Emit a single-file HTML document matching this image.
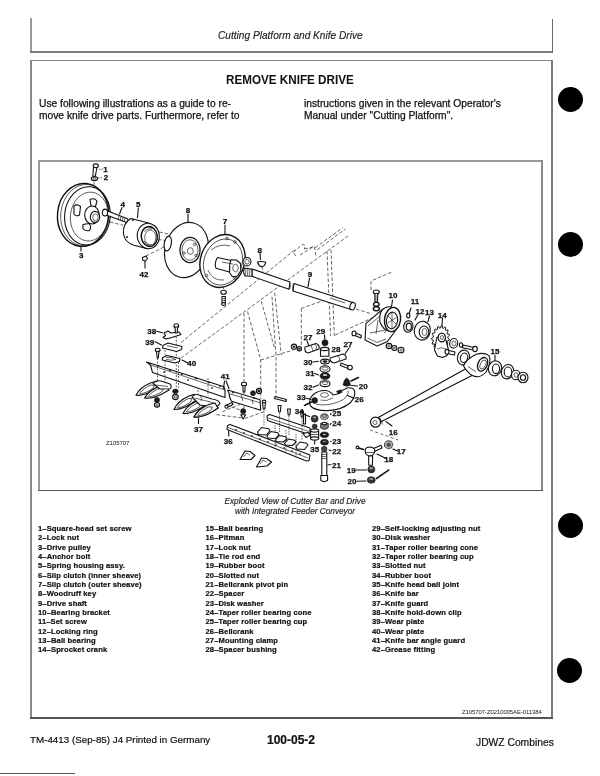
<!DOCTYPE html>
<html><head><meta charset="utf-8">
<style>
*{margin:0;padding:0;box-sizing:border-box}
html,body{width:600px;height:776px;background:#fff;overflow:hidden}
body{position:relative;filter:grayscale(1);font-family:"Liberation Sans",sans-serif;color:#111}
.a{position:absolute;white-space:nowrap}
.ln{position:absolute;background:#333}
.bul{position:absolute;width:25px;height:25px;border-radius:50%;background:#000}
.hdr{font-style:italic;font-size:10.15px;color:#222;-webkit-text-stroke:0.15px #222}
.ttl{font-weight:bold;font-size:13.4px;transform:scaleX(0.872);transform-origin:0 0;color:#111}
.p{font-size:10.25px;line-height:11.6px;color:#111;-webkit-text-stroke:0.25px #111}
.cap{font-style:italic;font-size:8.25px;color:#222;-webkit-text-stroke:0.15px #222;text-align:center;line-height:10px}
.pl{font-weight:bold;font-size:7.6px;line-height:9.36px;color:#111;letter-spacing:0.1px;-webkit-text-stroke:0.2px #111}
.ft{font-size:9.8px;color:#111;-webkit-text-stroke:0.2px #111}
</style></head><body>
<!-- top header box -->
<div class="ln" style="left:30.3px;top:17.5px;width:2px;height:35px;background:#999"></div>
<div class="ln" style="left:29.7px;top:51px;width:523.5px;height:2px;background:#7a7a7a"></div>
<div class="ln" style="left:551.5px;top:18.5px;width:1.8px;height:34px;background:#666"></div>
<div class="a hdr" style="left:218px;top:30px">Cutting Platform and Knife Drive</div>

<!-- main box -->
<div class="ln" style="left:29.7px;top:59.7px;width:523.5px;height:1.6px;background:#888"></div>
<div class="ln" style="left:29.7px;top:60px;width:2px;height:658px;background:#8a8a8a"></div>
<div class="ln" style="left:551.3px;top:60px;width:1.8px;height:658px;background:#7a7a7a"></div>
<div class="ln" style="left:29.7px;top:716.5px;width:523.5px;height:2px;background:#555"></div>

<div class="a ttl" style="left:226px;top:71.5px">REMOVE KNIFE DRIVE</div>
<div class="a p" style="left:39px;top:98px">Use following illustrations as a guide to re-<br>move knife drive parts. Furthermore, refer to</div>
<div class="a p" style="left:304px;top:98px">instructions given in the relevant Operator's<br>Manual under "Cutting Platform".</div>

<!-- diagram frame -->
<div class="ln" style="left:38.2px;top:160px;width:505px;height:1.6px;background:#999"></div>
<div class="ln" style="left:38.2px;top:160px;width:2px;height:331px;background:#999"></div>
<div class="ln" style="left:541.2px;top:160px;width:2px;height:331px;background:#8a8a8a"></div>
<div class="ln" style="left:38.2px;top:489.6px;width:505px;height:1.6px;background:#555"></div>

<svg id="dg" class="a" style="left:0;top:0" width="600" height="776" viewBox="0 0 600 776">
<defs><style>
.s{stroke:#111;stroke-width:1.1;fill:none;stroke-linejoin:round;stroke-linecap:round}
.w{stroke:#111;stroke-width:1.1;fill:#fff;stroke-linejoin:round}
.t{stroke:#222;stroke-width:0.7;fill:none}
.d{stroke:#333;stroke-width:0.75;fill:none;stroke-dasharray:3.5 2}
.k{fill:#1b1b1b;stroke:#1b1b1b;stroke-width:0.6}
.g{fill:#9a9a9a;stroke:#1b1b1b;stroke-width:0.7}
.l{font-family:"Liberation Sans",sans-serif;font-weight:bold;font-size:8px;fill:#111;text-anchor:middle;stroke:#111;stroke-width:0.25px}
.ls{stroke:#222;stroke-width:0.7;fill:none}
</style></defs>
<!-- ===== frame phantom lines ===== -->
<g class="d">
<path d="M181,342.5 L293.3,251"/>
<path d="M181,358 L348,236"/>
<path d="M315.3,247.7 L342.7,227.7 M317.3,249.7 L345.3,229"/>
<path d="M293.3,252.3 L300,246.5 Q303,243 305,245.5 L304.5,249 M300,255 L312.7,247 M296,256 Q292.5,253 295,249.5 M314.5,246.5 L316,257 M304.5,249 L314.5,246.5"/>
<path d="M244,313 L244,383"/>
<path d="M247.5,311.5 L260.7,359.5 L260.7,399"/>
<path d="M261.3,301.3 L274.7,348.7"/>
<path d="M272,296.7 L276,356.7 L276,398"/>
<path d="M274.7,292.7 L281.3,355.3"/>
<path d="M260.7,360 L293.3,350"/>
<path d="M301.3,308.4 L329.7,298.3 M301.3,308.4 L301.3,352"/>
<path d="M327,251 L330.6,336 M331,250 L334.3,336"/>
<path d="M335.2,335 L372,318"/>
<path d="M356,309 L372,314"/>
<path d="M371,290 L371,281 L392,272"/>
<path d="M223.5,280 L223.5,290"/>
<path d="M216.5,414.7 L243.5,418 M222.5,411.7 L240.5,404.2 M245,418.5 L266,411 M226,405 L243,411"/>
<path d="M94,182 L94,205"/>
<path d="M110,222 L123.3,225.3"/>
<path d="M159.3,232 L168.7,234 M158,239.3 L165,240.5"/>
<path d="M146,256 L166,246"/>
<path d="M262,266 L263,272"/>
</g>
<!-- ===== pulley 3 ===== -->
<g transform="rotate(6 84 215)">
<ellipse class="w" cx="83" cy="215" rx="25.5" ry="31.5" style="stroke-width:1.4"/>
<ellipse class="t" cx="85" cy="215" rx="24.3" ry="30.7"/>
<ellipse class="s" cx="87.5" cy="215.5" rx="22.8" ry="29.2"/>
<ellipse class="t" cx="89.5" cy="216" rx="19" ry="24.5"/>
</g>
<path class="w" d="M74,206 Q77,203.5 80.5,206.5 L79.5,215 Q76,217 74,214 Z"/>
<path class="w" d="M90,199.5 Q94,197.5 97,201 L95.5,206.5 L91,206 Z"/>
<path class="w" d="M83,224.5 L89,223.5 Q92,227 89.5,230.5 Q85,231.5 82.8,228.5 Z"/>
<ellipse class="w" cx="92" cy="215" rx="7.3" ry="9"/>
<ellipse class="w" cx="95" cy="217" rx="4.7" ry="5.6"/>
<ellipse class="t" cx="95.5" cy="217.3" rx="2.7" ry="3.4"/>
<path class="s" d="M81,246.5 L81,251"/>
<!-- bolt 1 / nut 2 -->
<path class="w" d="M93.5,167.5 L92.8,176 L95.2,176.3 L97,167.5 Z"/>
<ellipse class="w" cx="95.8" cy="165.8" rx="2.6" ry="1.9"/>
<ellipse class="w" cx="94.4" cy="178.6" rx="3.2" ry="2"/>
<ellipse class="t" cx="94.4" cy="178.4" rx="1.3" ry="0.8"/>
<path class="d" d="M99,169.3 L103,169.3 M98,178 L103,177.6" style="stroke-dasharray:1.5 1"/>
<!-- anchor bolt 4 -->
<path class="w" d="M106.5,210.5 L128,219 L127.3,222.8 L105.5,214.7 Z"/>
<ellipse class="w" cx="105" cy="212.5" rx="2.6" ry="3.4"/>
<path class="t" d="M119,215.4 L118.4,219.6 M121,216.2 L120.4,220.4 M123,217 L122.4,221.2 M125,217.8 L124.4,222"/>
<path class="s" d="M122,207.5 L119.5,214"/>
<!-- spring housing 5 -->
<path class="w" d="M131,218.5 C125.5,221 122.5,228 123.5,234 C124.5,240 128,243.5 134,245.2 L147.5,248.7 L149.5,223.3 Z"/>
<ellipse class="w" cx="148.3" cy="236" rx="11" ry="12.7" transform="rotate(-8 148.3 236)"/>
<ellipse class="s" cx="149.3" cy="236.5" rx="8" ry="9.9" transform="rotate(-8 149.3 236.5)" style="stroke-width:1.5"/>
<ellipse class="t" cx="150.3" cy="237.5" rx="5.6" ry="7.4"/>
<path class="t" d="M144.5,232 Q147,228 152,229 M144,241 Q146,245 150,245.5"/>
<path class="s" d="M138.3,208 L137.5,217.5"/>
<circle class="k" cx="133" cy="220" r="0.8"/>
<circle class="k" cx="127" cy="237" r="0.8"/>
<!-- grease fitting 42 -->
<path class="w" d="M142.5,257.5 L146,256 L147.5,258.5 L145.5,261 L142.8,260.3 Z"/>
<path class="s" d="M145,261.5 L145,268"/>
<!-- disc 8 -->
<ellipse class="w" cx="186.5" cy="250" rx="21.5" ry="28" transform="rotate(15 186.5 250)"/>
<ellipse class="w" cx="167.8" cy="243.5" rx="3.5" ry="7.5" transform="rotate(10 167.8 243.5)"/>
<ellipse class="s" cx="190" cy="250" rx="10" ry="12.6" style="stroke-dasharray:2 0.8;stroke-width:1.3"/>
<ellipse class="t" cx="190" cy="250" rx="8" ry="10.3"/>
<ellipse class="t" cx="190.3" cy="251" rx="3" ry="3.3"/>
<circle class="t" cx="184" cy="253" r="1.3"/><circle class="t" cx="194.5" cy="244.5" r="1.2"/><circle class="t" cx="196" cy="255.5" r="1.2"/>
<path class="s" d="M188,214 L188,222.3"/>
<!-- disc 7 -->
<ellipse class="w" cx="222.5" cy="261" rx="22" ry="27" transform="rotate(20 222.5 261)" style="stroke-width:1.4"/>
<ellipse class="t" cx="223" cy="262" rx="19" ry="23.5" transform="rotate(20 223 262)"/>
<path class="t" d="M211,250 Q220,243 230,246 M208,270 Q212,281 224,280"/>
<path class="w" d="M217.5,257.5 L231,260.5 L229.5,272 L216,268.3 Q214,263 217.5,257.5 Z"/>
<path class="w" d="M231,259.8 L236.5,260 L240.5,263.5 L240.8,270.5 L237.5,276 L232.5,276.7 L229.5,272.5 L229.8,264 Z"/>
<ellipse class="t" cx="235.5" cy="268" rx="2.8" ry="3.8"/>
<path class="t" d="M222,262 L233,264"/>
<circle class="t" cx="227" cy="238.5" r="1.3"/><circle class="t" cx="235" cy="242" r="1.3"/><circle class="t" cx="206.5" cy="275.5" r="1.3"/><circle class="t" cx="235" cy="278" r="1.3"/>
<path class="s" d="M225,225.5 L225,234"/>
<ellipse class="w" cx="247" cy="261.7" rx="4" ry="4.2"/>
<ellipse class="t" cx="247" cy="261.7" rx="2.2" ry="2.4"/>
<!-- bolt under disc 7 -->
<ellipse class="w" cx="223.6" cy="292.3" rx="2.8" ry="2"/>
<path class="w" d="M222,296.5 L225.3,296.5 L225.3,303 L222,303 Z"/>
<ellipse class="w" cx="223.6" cy="304" rx="2" ry="1.4"/>
<path class="t" d="M222,298.5 L225.3,298.5 M222,300.5 L225.3,300.5"/>
<!-- ===== drive shaft 9 ===== -->
<path class="w" d="M252,269 L290,282 L289,289.3 L252,276.3 Z"/>
<path class="w" d="M294,283.6 L352.5,302.6 L351,309.6 L293,291 Z"/>
<ellipse class="w" cx="352.6" cy="306.2" rx="2.6" ry="3.8" transform="rotate(17 352.6 306.2)"/>
<path class="w" d="M244.5,268 L252,269.2 L252,276.3 L245,276 Q242.5,272 244.5,268 Z"/>
<path class="t" d="M246,268 L245.5,276 M248,268.5 L247.5,276.2 M250,268.8 L249.5,276.3"/>
<path class="t" d="M289.5,282.5 Q291.5,286 289.3,289.3 M293.5,283.5 Q291.5,287.5 293.2,291"/>
<path class="t" d="M330,298 L345,303"/>
<path class="s" d="M309.5,278.3 L308,287"/>
<!-- key 8 -->
<path class="w" d="M257.5,262 Q261.5,260.8 265.8,262.3 Q264.5,266.8 261.5,266.7 Q258.5,265.8 257.5,262 Z"/>
<path class="s" d="M260,253.3 L260.5,259.5"/>
<!-- ===== bearing bracket 10 ===== -->
<path class="w" d="M383,309 L366,323.4 L365,340 L377,345.9 L387.1,341.8 L396,330 L392,310 Z"/>
<path class="t" d="M368,326 L380,316 M367.5,338 L377,342.5 L386,339 M370,333 L386,330 M378,320 L376,334 M384,333 L393,325"/>
<path class="w" d="M381.8,310.5 Q386,306 391,307 L389,331 Q383,330 380,322 Q379,315 381.8,310.5 Z"/>
<ellipse class="w" cx="392.5" cy="319.5" rx="8" ry="12.2" transform="rotate(8 392.5 319.5)" style="stroke-width:1.4"/>
<ellipse class="w" cx="392" cy="320.5" rx="5.6" ry="8.4" transform="rotate(8 392 320.5)"/>
<path class="t" d="M388,316 L396,324 M387.5,323 L396.5,317.5 M392,312.5 L392,328.5"/>
<path class="s" d="M392.5,300 L391.5,307"/>
<!-- bolt above bracket -->
<ellipse class="w" cx="376.3" cy="292" rx="3" ry="2"/>
<path class="w" d="M374.8,293.5 L377.8,293.5 L377.5,302 L375,302 Z"/>
<path class="t" d="M374.8,296 L377.7,296 M374.8,298 L377.7,298 M374.8,300 L377.6,300"/>
<ellipse class="w" cx="376.3" cy="304.3" rx="2.8" ry="1.9" style="stroke-width:1.4"/>
<ellipse class="w" cx="376.3" cy="308.8" rx="3" ry="2" style="stroke-width:1.4"/>
<!-- nuts under bracket -->
<ellipse class="w" cx="389" cy="346" rx="2.8" ry="2.6"/><circle class="t" cx="389" cy="346" r="1.1"/>
<ellipse class="w" cx="394.3" cy="348" rx="2.5" ry="2.5"/><circle class="t" cx="394.3" cy="348" r="1"/>
<ellipse class="w" cx="401" cy="350" rx="3" ry="2.8"/><circle class="t" cx="401" cy="350" r="1.2"/>
<!-- bolt left of bracket -->
<path class="w" d="M353.5,332 L361.5,335.5 L360.8,338 L353,334.8 Z"/>
<ellipse class="w" cx="354" cy="333.4" rx="2" ry="2.4"/>
<!-- locking ring 12, set screw 11 -->
<ellipse class="w" cx="408.3" cy="326.5" rx="4.6" ry="5.8" transform="rotate(10 408.3 326.5)"/>
<ellipse class="s" cx="408.8" cy="326.7" rx="2.6" ry="3.6"/>
<ellipse class="w" cx="408.3" cy="315.5" rx="1.6" ry="2.4"/>
<path class="s" d="M411,308 L409.5,312.5 M418,314.5 L415,320"/>
<!-- bearing 13 -->
<ellipse class="w" cx="422.3" cy="330.7" rx="8" ry="9.5" transform="rotate(10 422.3 330.7)"/>
<ellipse class="s" cx="424" cy="332" rx="4.8" ry="6"/>
<ellipse class="t" cx="424.5" cy="332" rx="2.5" ry="3.5"/>
<path class="s" d="M429.5,316 L428,321.5"/>
<!-- sprocket crank 14 -->
<path class="w" d="M449.2,339.2 L449.0,340.5 L447.2,341.1 L446.9,342.0 L447.8,344.1 L447.2,345.2 L445.5,344.7 L444.9,345.4 L445.1,347.9 L444.2,348.6 L442.9,347.2 L442.1,347.5 L441.6,350.0 L440.6,350.2 L439.9,348.0 L439.1,348.0 L437.9,350.0 L437.0,349.7 L437.0,347.2 L436.3,346.7 L434.7,347.9 L434.0,347.1 L434.7,344.8 L434.3,343.9 L432.4,344.2 L432.1,343.0 L433.4,341.1 L433.3,340.1 L431.6,339.3 L431.7,338.1 L433.4,337.0 L433.5,336.0 L432.3,334.3 L432.7,333.1 L434.5,333.0 L435.0,332.1 L434.5,329.8 L435.2,328.9 L436.8,329.9 L437.4,329.3 L437.6,326.8 L438.5,326.4 L439.6,328.2 L440.4,328.0 L441.3,325.8 L442.2,325.8 L442.6,328.2 L443.4,328.4 L444.8,326.8 L445.6,327.4 L445.3,329.9 L445.8,330.5 L447.6,329.8 L448.1,330.8 L447.1,332.9 L447.4,333.9 L449.2,334.2 L449.3,335.4 L447.8,336.9 L447.8,338.0 Z" style="stroke-width:1"/>
<path class="w" d="M437,337 L446,340 L448.5,350 L447,355.5 L442.5,357.5 L437.5,356 L434.5,350 Z"/>
<ellipse class="w" cx="441.8" cy="337.5" rx="3.6" ry="4.4" style="stroke-width:1.2"/>
<ellipse class="t" cx="442" cy="337.5" rx="1.6" ry="2"/>
<path class="t" d="M437,349 Q441,346.5 446,349"/>
<path class="s" d="M442.5,318 L442,325.5"/>
<!-- crank pin bolt -->
<path class="w" d="M447,350 L455,352 L454.5,355 L446.5,353.5 Z"/>
<ellipse class="w" cx="447" cy="351.8" rx="2" ry="2.4"/>
<!-- washer, bolt -->
<ellipse class="w" cx="453.7" cy="343.3" rx="4" ry="4.8" transform="rotate(10 453.7 343.3)"/>
<ellipse class="t" cx="454" cy="343.5" rx="2" ry="2.6"/>
<ellipse class="w" cx="461" cy="345" rx="1.6" ry="2.2"/>
<path class="w" d="M463,345 L474,347.5 L473.5,350 L462.5,347.8 Z"/>
<ellipse class="w" cx="475" cy="349" rx="2.3" ry="2.6"/>
<!-- washer near pitman -->
<ellipse class="w" cx="463.5" cy="357.5" rx="6" ry="7.5" transform="rotate(15 463.5 357.5)"/>
<ellipse class="s" cx="464" cy="357.8" rx="3.6" ry="4.8" transform="rotate(15 464 357.8)"/>
<!-- ===== pitman 16 ===== -->
<path class="w" d="M468,367.6 L378.3,417.6 L381.5,421.6 L474,374.5 Z"/>
<path class="w" d="M463.5,366 Q466,359 476.3,354.2 Q484,352 489,355.6 Q492,362 486,372 Q482,376.5 477.6,376.8 Q470,377 463.5,366 Z"/>
<ellipse class="w" cx="482.6" cy="364.3" rx="4.6" ry="7.2" transform="rotate(25 482.6 364.3)" style="stroke-width:1.3"/>
<ellipse class="t" cx="483" cy="364.5" rx="2.6" ry="4.8" transform="rotate(25 483 364.5)"/>
<path class="t" d="M468,366.5 Q472,369 476,372"/>
<ellipse class="w" cx="375.5" cy="422.2" rx="5" ry="5" style="stroke-width:1.2"/>
<ellipse class="t" cx="375" cy="422.5" rx="2" ry="2"/>
<path class="t" d="M380,417.8 L382.5,424.5"/>
<path class="s" d="M386,421.5 L392,426"/>
<path class="d" d="M370,430 L398,440" style="stroke-dasharray:3 2.5"/>
<!-- bearing 15 + rings -->
<ellipse class="w" cx="495" cy="368.3" rx="6.5" ry="7.6" transform="rotate(20 495 368.3)"/>
<ellipse class="s" cx="496" cy="368.8" rx="3.6" ry="4.8"/>
<path class="s" d="M495,355 L495,360.5"/>
<ellipse class="w" cx="507.5" cy="371.7" rx="6" ry="7.3" transform="rotate(20 507.5 371.7)"/>
<ellipse class="s" cx="508" cy="372" rx="3.8" ry="5"/>
<ellipse class="w" cx="515.8" cy="375" rx="4.3" ry="4.8"/>
<ellipse class="t" cx="516" cy="375" rx="2" ry="2.3"/>
<ellipse class="w" cx="523" cy="377.5" rx="5" ry="5.3"/>
<ellipse class="s" cx="523" cy="377.5" rx="2.6" ry="2.8"/>
<!-- ===== clamps 27, stack 28-32 ===== -->
<ellipse class="w" cx="294" cy="346.7" rx="2.6" ry="2.6"/><circle class="k" cx="294" cy="346.7" r="1"/>
<ellipse class="w" cx="299.3" cy="348.7" rx="2.2" ry="2.2"/><circle class="k" cx="299.3" cy="348.7" r="0.9"/>
<path class="w" d="M305,347 L316,343.5 Q320,345 319,349 L308,353 Q304,352 305,347 Z"/>
<path class="t" d="M311,345 L313,351 M314.5,344 Q318,346 316,350"/>
<path class="w" d="M330,358 L343,354 Q347,355.5 346,359 L334,363 Q329.5,362 330,358 Z"/>
<path class="t" d="M337,356 Q341,357 339,361"/>
<path class="w" d="M341,363 L348.5,366 L348,368.5 L340.5,365.5 Z"/>
<ellipse class="w" cx="350" cy="367.5" rx="2.3" ry="2.3"/>
<path class="s" d="M307,341 L309,346 M349,348 L345,354"/>
<circle class="k" cx="325" cy="342.8" r="3.1"/>
<path class="w" d="M320.5,349 L328.9,349 L328.9,356.3 L320.5,356.3 Z"/>
<ellipse class="w" cx="324.7" cy="349" rx="4.2" ry="1.6"/>
<path class="s" d="M324.5,334.8 L324.8,339.2"/>
<ellipse class="w" cx="325" cy="361.5" rx="4.4" ry="2.4"/><ellipse class="k" cx="325" cy="361.5" rx="2" ry="1.1"/>
<ellipse class="w" cx="325" cy="369" rx="5" ry="3.2"/><ellipse class="t" cx="325" cy="368.6" rx="3" ry="1.6"/>
<ellipse class="k" cx="325" cy="376" rx="5" ry="3.5"/><ellipse class="w" cx="325" cy="375" rx="3" ry="1.4"/>
<ellipse class="w" cx="325" cy="383.7" rx="5" ry="2.9"/><ellipse class="t" cx="325" cy="383.2" rx="3" ry="1.4"/>
<path class="s" d="M313,362 L318.5,361.3 M314,373.3 L318.5,375 M313,387.3 L318.5,385"/>
<!-- nut 20 upper + cotter -->
<path class="k" d="M343,385 Q344,379 346.7,378 Q349.5,379 350.5,385 Q346.7,387.5 343,385 Z"/>
<path class="s" d="M351,381 L358.5,377.5" style="stroke-width:1.6"/>
<path class="s" d="M351,385.5 L357.5,386"/>
<!-- ===== bellcrank 26 ===== -->
<path class="w" d="M310.5,406 Q307.5,399 314,394 Q319,390 326,390.5 Q331,391.5 333,395 L339.5,393.5 Q342.5,389.5 347,388 Q352.5,387 354.5,390.5 Q356,397 350,403 Q342,409.8 328,410.6 Q315.5,411 310.5,406 Z"/>
<path class="t" d="M316,404.5 Q331,406.5 343.5,399.5 Q349,394.5 348,390.5 M320.5,400 Q326,402 333,398"/>
<ellipse class="t" cx="324.5" cy="395" rx="4" ry="2.3"/>
<path class="k" d="M336.5,391.2 L341,389.8 L342.3,392.2 L337.8,393.6 Z"/>
<path class="s" d="M347.5,395.5 L354,398.2"/>
<!-- nut 33 -->
<circle class="k" cx="314.7" cy="400.5" r="2.9"/>
<path class="s" d="M304.5,405.5 L311.5,402" style="stroke-width:1.6"/>
<path class="s" d="M306,398 L311,399.5"/>
<!-- stack 22-25 under bellcrank -->
<ellipse class="g" cx="324.4" cy="416.6" rx="4" ry="2.9" style="fill:#bbb"/><ellipse class="t" cx="324.4" cy="416" rx="2.4" ry="1.3"/>
<path class="g" d="M320.4,423.5 Q324.4,420.5 328.4,423.5 L328.2,428 Q324.4,431 320.6,428 Z" style="fill:#777"/><ellipse class="w" cx="324.4" cy="423.6" rx="2.4" ry="1.1"/>
<ellipse class="k" cx="324.4" cy="434.8" rx="4.3" ry="2.8"/><ellipse class="w" cx="324.4" cy="434.3" rx="2.3" ry="1.1"/>
<ellipse class="k" cx="324.5" cy="442.2" rx="4" ry="2.9"/><ellipse class="g" cx="324.5" cy="441.6" rx="2.3" ry="1.1" style="fill:#888"/>
<ellipse class="k" cx="324.2" cy="449" rx="2.8" ry="2.7" style="fill:#444"/>
<path class="w" d="M321.8,452 L326.8,452 L326.8,476 L321.8,476 Z"/>
<path class="w" d="M320.8,475.5 L327.6,475.5 L327.6,480.5 L324.2,481.8 L320.8,480.5 Z"/>
<path class="t" d="M321.8,454.5 L326.8,454.5 M321.8,456.5 L326.8,456.5 M321.8,458.5 L326.8,458.5"/>
<path class="s" d="M331,413.3 L330.5,414.5 M331,423.3 L330.5,424.5 M331,441.3 L330.5,441.5 M331,450.7 L329,450 M331,464.7 L328,464.7"/>
<!-- ball joint 35, boot 34 -->
<path class="w" d="M303.5,414 L305.5,414 L305.5,424 L303.5,424 Z"/>
<circle class="k" cx="314.6" cy="418.7" r="3.5" style="fill:#333"/><ellipse cx="314.6" cy="417.6" rx="1.6" ry="1" fill="#999"/>
<ellipse class="k" cx="314.7" cy="426.3" rx="2.5" ry="2.2" style="fill:#333"/>
<path class="w" d="M310.6,430.5 L318.6,430.5 L318.6,438.5 L310.6,438.5 Z"/>
<ellipse class="w" cx="314.6" cy="430.5" rx="4" ry="1.6"/>
<ellipse class="w" cx="314.6" cy="438.5" rx="4" ry="1.6"/>
<path class="t" d="M310.6,434.5 L318.6,434.5"/>
<path class="s" d="M303,414 L309.5,416.5 M314.7,441 L314.7,444"/>
<path class="s" d="M306,435.5 L309,434.5" style="stroke-width:1.5"/>
<!-- ===== tie rod end 18 etc ===== -->
<path class="g" d="M384.5,443 L387,440.8 L391,441 L393,444 L391.5,448 L387.5,448.8 L384.5,446.5 Z" style="fill:#aaa"/><ellipse class="k" cx="388.7" cy="444.8" rx="1.6" ry="1.5" style="fill:#555"/>
<path class="s" d="M393,449 L398,451.3"/>
<path class="w" d="M373.5,448.5 L381,445.3 L382,448 L374.5,451.5 Z"/>
<path class="w" d="M365.3,449 Q366.5,447 370,447 Q374.5,447.3 374.8,450.5 Q374.5,455.5 370,456 Q365.8,455.5 365.3,452 Z"/>
<path class="t" d="M366,452.5 L374.5,452.5"/>
<path class="w" d="M368.6,456 L372.6,456 L372.4,465.3 L368.8,465.3 Z"/>
<path class="s" d="M357,447.5 L363.5,449.5" style="stroke-width:1.5"/>
<circle class="w" cx="357.5" cy="447.5" r="1.4"/>
<path class="s" d="M377,454 L386,458.5"/>
<ellipse class="k" cx="371.3" cy="469.5" rx="3.5" ry="3.4" style="fill:#333"/><ellipse cx="371.3" cy="468.3" rx="1.8" ry="1.1" fill="#aaa"/>
<ellipse class="k" cx="371.3" cy="480" rx="4" ry="3.3" style="fill:#333"/><ellipse cx="371.3" cy="479" rx="2.2" ry="1.1" fill="#999"/>
<path class="s" d="M376.5,478.5 L388.7,470" style="stroke-width:1.6;stroke-dasharray:1.2 0.6"/>
<path class="s" d="M356,470 L366.5,470 M357,481.3 L366,481"/>
<!-- ===== cutter bar (angle) ===== -->
<path class="w" d="M146.5,362 L224,386.8 L225,390 L225,397.5 L152.5,372.5 L150.5,365 Z"/>
<path class="t" d="M150.5,365 L225,390"/>
<g class="k"><circle cx="158" cy="366" r="0.7"/><circle cx="170" cy="370.5" r="0.7"/><circle cx="182" cy="374" r="0.7"/><circle cx="196" cy="378.5" r="0.7"/><circle cx="209" cy="382.5" r="0.7"/><circle cx="220" cy="386" r="0.7"/>
<circle cx="164" cy="372" r="0.6"/><circle cx="188" cy="380" r="0.6"/><circle cx="212" cy="388" r="0.6"/></g>
<!-- phantom bolt lines -->
<g class="d" style="stroke-dasharray:2 1.5">
<path d="M157.5,358 L157.5,382 M176.3,333 L176.3,390 M165,350 L165,383 M178.5,362 L178.5,388 M208,378 L208,396 M198,390 L198,395 M244,392 L244,408"/>
</g>
<!-- guards 37 -->
<defs>
<g id="gd">
<path class="w" d="M0,0 C4,-3 11,-5 19,-4.3 L25,-3 L25.5,3 L18,3.6 C10,4 4,2.6 0,0 Z" style="stroke-width:1.2"/>
<path class="t" d="M3.5,0.2 C8,-2.2 13,-2.8 18,-2.3 M4,0.8 C9,2.2 14,2.3 18,1.8 M18,-2.3 L21,-0.3 L18,1.8"/>
</g>
</defs>
<use href="#gd" transform="translate(136,395.2) rotate(-27)"/>
<use href="#gd" transform="translate(144.6,398) rotate(-25)"/>
<path class="w" d="M153,383.5 Q156,380 161,381 L170,384 Q172.5,386.5 170,388.8 L160,389 Z"/>
<path class="t" d="M155,385 L168,386.5"/>
<use href="#gd" transform="translate(174,409.5) rotate(-30)"/>
<use href="#gd" transform="translate(183,413.5) rotate(-28)"/>
<use href="#gd" transform="translate(194,417) rotate(-27)"/>
<path class="w" d="M192,397 Q195,393.5 199,395 L212,399 Q219,400 220,403.5 Q217,408 212,407 L200,405 Z"/>
<path class="t" d="M195,398 L214,403 M200,396 Q203,398 201,401"/>
<use href="#gd" transform="translate(194,417) rotate(-27)"/>
<!-- nuts under guards -->
<circle class="k" cx="157" cy="400" r="2.6"/><ellipse class="w" cx="157" cy="404.8" rx="2.6" ry="2.3"/><circle class="t" cx="157" cy="404.8" r="1"/>
<ellipse class="k" cx="175.4" cy="391.3" rx="2.8" ry="2.3"/><ellipse class="w" cx="175.4" cy="397" rx="2.8" ry="2.6"/><circle class="t" cx="175.4" cy="397" r="1.1"/>
<path class="s" d="M198.5,418.5 L198.5,423.5"/>
<!-- plates 38-40 -->
<path class="w" d="M164,333 L168,331 L171,333 L179,332 L181,334.5 L172,337.5 L166,339 L163,337.5 L165.5,335.5 Z"/>
<ellipse class="w" cx="176.3" cy="325.7" rx="2.4" ry="2"/>
<path class="w" d="M175,327 L177.6,327 L177.2,333 L175.4,333 Z"/>
<path class="w" d="M163,345.5 L168,343 L182,346.5 L181.5,349.5 L176.5,351.5 L162.5,348 Z"/>
<path class="t" d="M167,345.7 L178,348"/>
<path class="w" d="M162.5,357.8 L167,355.5 L180,358.5 L179.5,361.5 L175,363 L162.3,360 Z"/>
<path class="t" d="M166,357.6 Q171,356.5 176,359.5 Q171,361 166,359.3"/>
<ellipse class="w" cx="157.7" cy="350" rx="2.4" ry="1.8"/>
<path class="w" d="M156.5,351.3 L159,351.3 L158.3,358 L157.2,358 Z"/>
<path class="s" d="M156.5,331.2 L162.5,332.8 M155,341.8 L161.5,345 M188,363 L182,360"/>
<!-- angle guard 41 -->
<path class="w" d="M227.7,390 L260,399.7 L260.7,410.2 L231.5,401.2 Q229,397 229.2,393.7 Z"/>
<path class="t" d="M229.2,393.7 L260,402.7 M241,395 L243,401 M252,399.5 L253,404"/>
<circle class="k" cx="233" cy="392.5" r="0.7"/><circle class="k" cx="254" cy="398" r="0.7"/>
<path class="s" d="M224.5,381 L223.5,388.5 M226,381 L229,388.5"/>
<ellipse class="w" cx="244" cy="384.2" rx="2.6" ry="1.9"/>
<path class="w" d="M242.8,385.5 L245.2,385.5 L244.8,392 L243.2,392 Z"/>
<circle class="k" cx="253" cy="393.2" r="2.5"/><circle class="w" cx="253" cy="393.2" r="1"/>
<circle class="w" cx="259" cy="391" r="2.6"/><circle class="k" cx="259" cy="391" r="1.3"/>
<circle class="k" cx="243.2" cy="411.2" r="2.6"/><path class="w" d="M240.8,414.8 L245.6,414.8 L243.2,419 Z"/>
<path class="w" d="M226,405.5 L232,402.5 L233,404.5 L227,407.5 Z"/>
<circle class="w" cx="226.5" cy="406.7" r="1.6"/>
<!-- knife bar 36 -->
<path class="w" d="M227.5,425.5 L230,424.5 L310,455 L309,460.6 L306.5,461 L227,429.5 Z"/>
<path class="t" d="M228,427.5 L308,458"/>
<g class="k"><circle cx="236" cy="430" r="0.6"/><circle cx="244" cy="433" r="0.6"/><circle cx="252" cy="436" r="0.6"/><circle cx="260" cy="439" r="0.6"/><circle cx="268" cy="442" r="0.6"/><circle cx="276" cy="445" r="0.6"/><circle cx="284" cy="448" r="0.6"/><circle cx="292" cy="451" r="0.6"/><circle cx="300" cy="454" r="0.6"/></g>
<path class="s" d="M228.5,431 L228.8,436"/>
<!-- knife head bar (upper) -->
<path class="w" d="M267,416 L269.5,414.5 L310,428 L310,433 L307.5,434 L267.5,420.5 Z"/>
<path class="t" d="M268,418 L309,431.5"/>
<g class="d" style="stroke-dasharray:1.5 1"><path d="M264,404 L264,425 M279.5,408 L279.5,432 M289,411 L289,436 M302,413 L302,440 M275,425 L275,447 M286,430 L286,452 M296,434 L296,456"/></g>
<path class="w" d="M262.5,402 L265.5,402 L264.8,409 L263.2,409 Z"/>
<path class="w" d="M278,405.5 L281,405.5 L280.3,412 L278.7,412 Z"/>
<path class="w" d="M287.5,409 L290.5,409 L289.8,415 L288.2,415 Z"/>
<path class="w" d="M300.5,411 L303.5,411 L302.8,417 L301.2,417 Z"/>
<!-- knife sections on bar -->
<path class="w" d="M257.5,432.0 L261.5,427.5 L268.5,428.7 L270,430.5 L266.5,435 L258.5,434.5 Z"/>
<path class="w" d="M267,436.0 L271,431.5 L277.5,432.7 L279,434.5 L275.5,438.5 L268,438.0 Z"/>
<path class="w" d="M275.5,440.0 L279.5,435.5 L285.5,436.7 L287,438.5 L283.5,442 L276.5,441.5 Z"/>
<path class="w" d="M284.5,443.5 L288.5,439 L294.5,440.2 L296,442 L292.5,445.5 L285.5,445.0 Z"/>
<path class="w" d="M296,446.5 L300,442 L306.5,443.2 L308,445 L304.5,449.5 L297,449.0 Z"/>
<path class="w" d="M303,433.5 L308,432.5 L310.5,435 L306,437.5 Z"/>
<!-- loose sections -->
<path class="w" d="M240,459.5 L245,451 L250,451.5 L255,455.5 L251,459.5 Z" style="stroke-width:1.1"/>
<path class="t" d="M243.5,457 L246.5,453 L250,455"/>
<path class="w" d="M256.5,467 L261.5,458 L266.5,458.5 L271.5,462 L267,466 Z" style="stroke-width:1.1"/>
<path class="t" d="M260,464 L263,460 L266.5,462"/>
<!-- small parts near pillar -->
<path class="w" d="M275,396.5 L286.5,399.5 L286,401.5 L274.5,398.5 Z"/>
<ellipse class="w" cx="264" cy="401.5" rx="1.8" ry="1.4"/>
<!-- labels -->
<g class="l">
<text x="105.6" y="172.1">1</text>
<text x="106" y="180.4">2</text>
<text x="81.3" y="258.2">3</text>
<text x="122.7" y="206.9">4</text>
<text x="138.3" y="206.9">5</text>
<text x="188" y="212.9">8</text>
<text x="225" y="224.2">7</text>
<text x="144" y="276.9">42</text>
<text x="259.7" y="252.6">8</text>
<text x="310" y="276.9">9</text>
<text x="393" y="298.2">10</text>
<text x="415" y="304.2">11</text>
<text x="420" y="314.2">12</text>
<text x="429.5" y="314.8">13</text>
<text x="442.3" y="317.6">14</text>
<text x="495" y="354.2">15</text>
<text x="393.3" y="434.6">16</text>
<text x="401.3" y="454.2">17</text>
<text x="388.7" y="462.2">18</text>
<text x="351.3" y="472.9">19</text>
<text x="352" y="484.2">20</text>
<text x="336.5" y="467.6">21</text>
<text x="336.7" y="453.6">22</text>
<text x="336.7" y="444.2">23</text>
<text x="336.7" y="426.2">24</text>
<text x="336.7" y="416.2">25</text>
<text x="359.3" y="402.2">26</text>
<text x="363.3" y="388.9">20</text>
<text x="308" y="340.2">27</text>
<text x="348" y="346.9">27</text>
<text x="336" y="351.6">28</text>
<text x="320.7" y="333.6">29</text>
<text x="308" y="364.9">30</text>
<text x="310" y="376.2">31</text>
<text x="308" y="390.2">32</text>
<text x="301.3" y="399.6">33</text>
<text x="299.3" y="414.2">34</text>
<text x="314.7" y="451.6">35</text>
<text x="228.3" y="444.2">36</text>
<text x="198.5" y="431.9">37</text>
<text x="151.7" y="333.9">38</text>
<text x="149.7" y="344.6">39</text>
<text x="191.7" y="365.9">40</text>
<text x="225.2" y="378.9">41</text>
</g>
<text x="106" y="445.2" style="font-family:'Liberation Sans',sans-serif;font-size:6px;fill:#111;letter-spacing:-0.05px">Z105707</text>
</svg>

<div class="a cap" style="left:195px;top:496.5px;width:200px">Exploded View of Cutter Bar and Drive<br>with Integrated Feeder Conveyor</div>

<div class="a pl" style="left:38px;top:523.8px">1–Square-head set screw<br>2–Lock nut<br>3–Drive pulley<br>4–Anchor bolt<br>5–Spring housing assy.<br>6–Slip clutch (inner sheave)<br>7–Slip clutch (outer sheave)<br>8–Woodruff key<br>9–Drive shaft<br>10–Bearing bracket<br>11–Set screw<br>12–Locking ring<br>13–Ball bearing<br>14–Sprocket crank</div>
<div class="a pl" style="left:205.5px;top:523.8px">15–Ball bearing<br>16–Pitman<br>17–Lock nut<br>18–Tie rod end<br>19–Rubber boot<br>20–Slotted nut<br>21–Bellcrank pivot pin<br>22–Spacer<br>23–Disk washer<br>24–Taper roller bearing cone<br>25–Taper roller bearing cup<br>26–Bellcrank<br>27–Mounting clamp<br>28–Spacer bushing</div>
<div class="a pl" style="left:372px;top:523.8px">29–Self-locking adjusting nut<br>30–Disk washer<br>31–Taper roller bearing cone<br>32–Taper roller bearing cup<br>33–Slotted nut<br>34–Rubber boot<br>35–Knife head ball joint<br>36–Knife bar<br>37–Knife guard<br>38–Knife hold-down clip<br>39–Wear plate<br>40–Wear plate<br>41–Knife bar angle guard<br>42–Grease fitting</div>

<div class="a" style="left:462px;top:708.5px;font-size:6px;color:#222;letter-spacing:-0.1px">Z105707-Z0210005AE-011384</div>

<div class="a ft" style="left:30px;top:734px">TM-4413 (Sep-85) J4 Printed in Germany</div>
<div class="a ft" style="left:267px;top:733px;font-weight:bold;font-size:12px">100-05-2</div>
<div class="a ft" style="left:476px;top:736.5px;font-size:10.3px">JDWZ Combines</div>
<div class="ln" style="left:0;top:772.5px;width:75px;height:1px;background:#555"></div>

<div class="bul" style="left:558.3px;top:86.5px"></div>
<div class="bul" style="left:557.7px;top:231.7px"></div>
<div class="bul" style="left:557.7px;top:512.5px"></div>
<div class="bul" style="left:557.3px;top:657.7px"></div>
</body></html>
